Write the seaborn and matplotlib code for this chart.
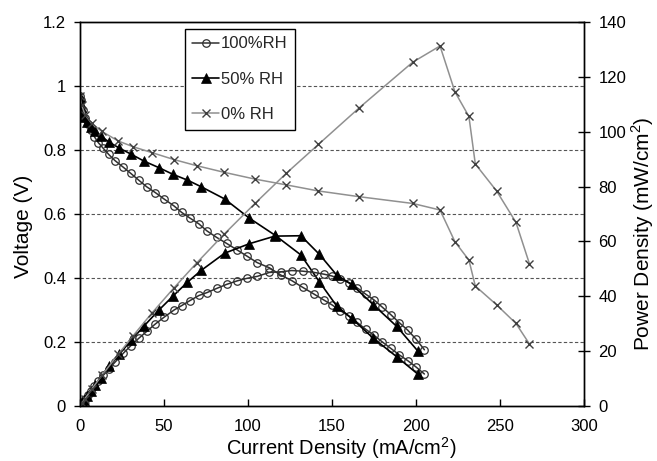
import numpy as np
import pandas as pd
import matplotlib
matplotlib.use("Agg")
import matplotlib.pyplot as plt
from matplotlib.ticker import FuncFormatter
import seaborn as sns

# ---------------- data ----------------
series_labels = ["100%RH", "50% RH", "0% RH"]

i_100 = [0, 0.6, 1.6, 3, 4.6, 6.3, 8.5, 10.9, 13.9, 17.1, 20.8, 25.8, 30.2, 34.9,
         39.7, 44.8, 50, 56, 60.5, 65.5, 70.8, 75.6, 81.3, 87.3, 93.6, 99.2, 105.5,
         112.7, 119.6, 126, 132.5, 139.5, 145.2, 150, 155, 160, 165, 170, 175, 180,
         185, 190, 195, 200, 205]
v_100 = [0.97, 0.956, 0.925, 0.899, 0.881, 0.862, 0.842, 0.823, 0.805, 0.786, 0.767,
         0.746, 0.727, 0.706, 0.685, 0.667, 0.647, 0.625, 0.605, 0.587, 0.569, 0.547,
         0.527, 0.508, 0.4875, 0.469, 0.448, 0.432, 0.409, 0.392, 0.371, 0.349, 0.331,
         0.316, 0.298, 0.281, 0.261, 0.240, 0.221, 0.200, 0.180, 0.160, 0.142, 0.122,
         0.100]
p_100 = [0, 0.57, 1.48, 2.70, 4.05, 5.43, 7.16, 8.97, 11.19, 13.44, 15.95, 19.25,
         21.96, 24.64, 27.19, 29.88, 32.35, 35.0, 36.6, 38.45, 40.29, 41.35, 42.85,
         44.35, 45.63, 46.52, 47.26, 48.69, 48.92, 49.39, 49.16, 48.69, 48.06, 47.4,
         46.19, 44.96, 43.07, 40.8, 38.68, 36.0, 33.3, 30.4, 27.69, 24.4, 20.5]

i_50 = [0, 0.2, 0.6, 1.4, 2.6, 4.2, 6.3, 9, 12.3, 17.5, 23.4, 30.4, 38.2, 46.9, 55.3,
        63.9, 72.2, 86.1, 100.8, 116, 131.5, 142.5, 152.8, 161.7, 174.6, 188.5, 201]
v_50 = [0.967, 0.951, 0.935, 0.92, 0.904, 0.888, 0.873, 0.858, 0.844, 0.824, 0.806,
        0.787, 0.765, 0.745, 0.724, 0.706, 0.685, 0.647, 0.587, 0.534, 0.472, 0.388,
        0.3125, 0.274, 0.2115, 0.154, 0.10]
p_50 = [0, 0.19, 0.56, 1.29, 2.35, 3.73, 5.5, 7.72, 10.38, 14.42, 18.86, 23.92, 29.22,
        34.94, 40.04, 45.11, 49.46, 55.71, 59.17, 61.94, 62.07, 55.29, 47.75, 44.31,
        36.93, 29.03, 20.1]

i_0 = [0, 1, 3, 7, 13, 22.8, 31.7, 42.7, 56, 69.4, 86, 104.2, 122.8, 141.9, 166.3,
       198, 214.3, 223.2, 231.5, 235.3, 248, 259.5, 267.5]
v_0 = [0.97, 0.94, 0.91, 0.883, 0.858, 0.828, 0.81, 0.792, 0.77, 0.751, 0.730, 0.709,
       0.691, 0.672, 0.654, 0.633, 0.6125, 0.513, 0.456, 0.375, 0.316, 0.258, 0.194]
p_0 = [0, 0.94, 2.73, 6.18, 11.15, 18.88, 25.68, 33.82, 43.12, 52.12, 62.78, 73.88,
       84.85, 95.36, 108.76, 125.33, 131.26, 114.5, 105.56, 88.24, 78.37, 66.95, 51.9]

x_ticks = [0, 50, 100, 150, 200, 250, 300]
v_ticks = [0, 0.2, 0.4, 0.6, 0.8, 1.0, 1.2]
p_ticks = [0, 20, 40, 60, 80, 100, 120, 140]

# ---------------- style ----------------
sns.set_theme(style="white")
plt.rcParams["font.family"] = ["Liberation Sans", "DejaVu Sans"]
plt.rcParams["mathtext.fontset"] = "custom"
plt.rcParams["mathtext.rm"] = "Liberation Sans"

fig = plt.figure(figsize=(6.57, 4.61), dpi=100)
ax = fig.add_axes([80 / 657, 1 - 406 / 461, 504 / 657, 384 / 461])
ax2 = ax.twinx()

styles = [
    dict(color="#303030", lw=1.1, marker="o", ms=5.4, mfc="none", mec="#303030", mew=0.9),
    dict(color="#000000", lw=1.2, marker="^", ms=6.8, mfc="#000000", mec="#000000", mew=0.5),
    dict(color="#909090", lw=1.1, marker="x", ms=6.2, mfc="none", mec="#404040", mew=1.0),
]

v_data = [(i_100, v_100), (i_50, v_50), (i_0, v_0)]
p_data = [(i_100, p_100), (i_50, p_50), (i_0, p_0)]

handles = []
for (xi, yi), st in zip(v_data, styles):
    df = pd.DataFrame({"I": xi, "V": yi})
    sns.lineplot(data=df, x="I", y="V", sort=False, estimator=None, ax=ax, **st)
    handles.append(ax.lines[-1])
for (xi, yi), st in zip(p_data, styles):
    df = pd.DataFrame({"I": xi, "P": yi})
    sns.lineplot(data=df, x="I", y="P", sort=False, estimator=None, ax=ax2, **st)

# axes limits / ticks
ax.set_xlim(0, 300)
ax.set_ylim(0, 1.2)
ax2.set_ylim(0, 140)
ax.set_xticks(x_ticks)
ax.set_yticks(v_ticks)
ax2.set_yticks(p_ticks)
ax.yaxis.set_major_formatter(FuncFormatter(lambda v, p: "%g" % round(v, 2)))

for y in v_ticks[1:-1]:
    ax.axhline(y, color="#555555", lw=0.8, ls=(0, (3, 2)), zorder=0.5)

for a in (ax, ax2):
    for s in a.spines.values():
        s.set_color("black")
        s.set_linewidth(1.0)
        s.set_visible(True)

ax.tick_params(axis="y", direction="out", length=4, width=1, color="black",
               labelsize=12, pad=6, labelcolor="black", left=True)
ax.tick_params(axis="x", direction="in", length=5, width=1, color="black",
               labelsize=12, pad=9, labelcolor="black", bottom=True)
ax2.tick_params(axis="y", direction="inout", length=9, width=1, color="black",
                labelsize=12, pad=6, labelcolor="black", right=True)

ax.set_xlabel("Current Density (mA/cm$^2$)", fontsize=14.5, color="black")
ax.set_ylabel("Voltage (V)", fontsize=15, color="black")
ax2.set_ylabel("Power Density (mW/cm$^2$)", fontsize=15, color="black")

ax.xaxis.set_label_coords(0.518, -0.109)
ax.xaxis.label.set_va("center")
ax.yaxis.set_label_coords(-0.113, 0.469)
ax.yaxis.label.set_va("center")
ax2.yaxis.set_label_coords(1.117, 0.45)
ax2.yaxis.label.set_va("center")

leg = ax2.legend(handles, series_labels, loc="upper left",
                 bbox_to_anchor=(0.208, 0.982), frameon=True, fancybox=False,
                 fontsize=12, handlelength=1.6, handletextpad=0.12,
                 labelspacing=1.22, borderpad=0.45, borderaxespad=0)
leg.get_frame().set_edgecolor("black")
leg.get_frame().set_linewidth(1.0)
leg.get_frame().set_facecolor("white")
leg.get_frame().set_alpha(1)

fig.savefig("out.png", dpi=100)
